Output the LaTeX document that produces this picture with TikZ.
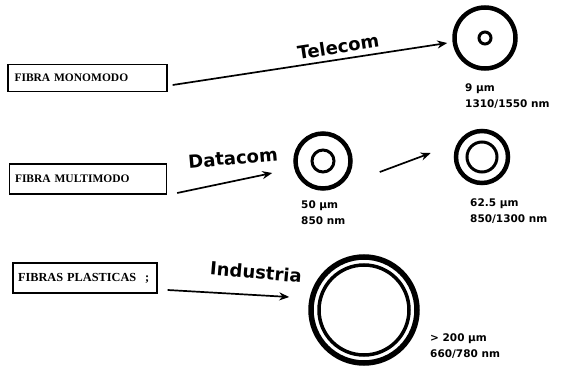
\documentclass[tikz,border=0pt]{standalone}
\usepackage{fontspec}
\setmainfont{Liberation Serif}
\newfontfamily\lblfont{DejaVu Sans}
\usetikzlibrary{arrows.meta}

\begin{document}
\begin{tikzpicture}[x=1pt,y=-1pt,
  fibrebox/.style={draw, line width=1.3pt, inner sep=0pt, align=left,
    font=\fontsize{11.5}{13}\selectfont\bfseries},
  flowarrow/.style={line width=1.7pt, -{Stealth[length=10pt,width=8pt]}},
  routename/.style={font=\lblfont\bfseries\fontsize{18}{20}\selectfont, inner sep=1pt},
  spec/.style={font=\lblfont\bfseries\fontsize{10.5}{16}\selectfont, anchor=north west,
    align=left, inner sep=0pt},
  cladding/.style={circle, draw, line width=4.5pt, inner sep=0pt},
  core/.style={circle, draw, line width=3pt, inner sep=0pt},
]
\useasboundingbox (0,0) rectangle (565,374);

% source boxes
\node[fibrebox, minimum width=159pt, minimum height=27pt, text width=146pt] (b1) at (87.5,78) {FIBRA MONOMODO};
\node[fibrebox, minimum width=157pt, minimum height=30pt, text width=146pt] (b2) at (88,179) {FIBRA MULTIMODO};
\node[fibrebox, minimum width=144pt, minimum height=30pt, text width=134pt,
  font=\fontsize{12.3}{14}\selectfont\bfseries] (b3) at (85,278) {FIBRAS PLASTICAS\hspace{9pt};};

% fibre cross sections
\node[cladding, minimum size=61pt] (c1) at (485,38) {};
\node[core, minimum size=12pt] (k1) at (c1.center) {};
\node[cladding, minimum size=55pt] (c2) at (323,161) {};
\node[core, minimum size=22pt] (k2) at (c2.center) {};
\node[cladding, minimum size=52pt] (c3) at (482,157) {};
\node[core, minimum size=30pt] (k3) at (c3.center) {};
\node[cladding, line width=5.5pt, minimum size=106pt] (c4) at (364,310) {};
\node[core, line width=3.5pt, minimum size=90pt] (k4) at (c4.center) {};

% dimensions and wavelengths
\node[spec] (s1) at (465,84) {9 µm\\1310/1550 nm};
\node[spec] (s2) at (301,201) {50 µm\\850 nm};
\node[spec] (s3) at (470,199) {62.5 µm\\850/1300 nm};
\node[spec] (s4) at (430,334) {> 200 µm\\660/780 nm};

% links
\draw[flowarrow] ([xshift=5pt,yshift=-7pt]b1.east) -- ([xshift=-5pt,yshift=-5pt]c1.west)
  node[routename, pos=0.61, above=4pt, sloped] (l1) {Telecom};
\draw[flowarrow] ([xshift=10pt,yshift=-14pt]b2.east) -- ([xshift=-21pt,yshift=-12pt]c2.west);
\node[routename, rotate=5] (l2) at (233,158) {Datacom};
\draw[flowarrow] ([xshift=27pt,yshift=-11pt]c2.east) -- ([xshift=-23pt,yshift=4pt]c3.west);
\draw[flowarrow] ([xshift=10pt,yshift=-12pt]b3.east) -- ([xshift=-19pt,yshift=13pt]c4.west);
\node[routename, rotate=-5] (l3) at (256,272) {Industria};
\end{tikzpicture}
\end{document}
